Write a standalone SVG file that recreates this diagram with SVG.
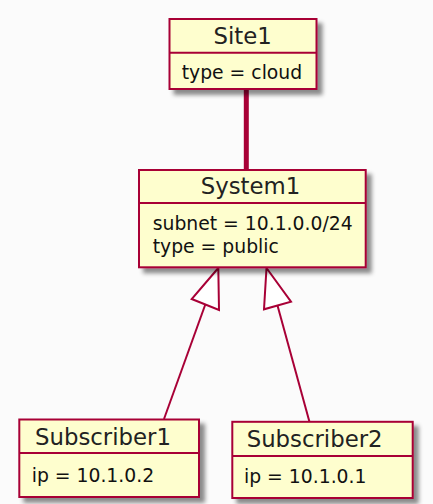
<svg xmlns="http://www.w3.org/2000/svg" width="433" height="504" viewBox="0 0 433 504">
  <style>
    .box { fill: #FEFECE; stroke: #A80036; stroke-width: 2; }
    .sep { stroke: #A80036; stroke-width: 2; }
    .title { font-family: "DejaVu Sans", "Liberation Sans", sans-serif; font-size: 22.8px; fill: #222; }
    .attr { font-family: "DejaVu Sans", "Liberation Sans", sans-serif; font-size: 18.8px; fill: #111; }
    .link { stroke: #A80036; fill: none; stroke-width: 2; }
    .head { fill: #FFFFFF; stroke: #A80036; stroke-width: 2; stroke-linejoin: miter; }
  </style>
  <defs>
    <filter id="shadow" x="-10%" y="-10%" width="130%" height="130%">
      <feGaussianBlur in="SourceAlpha" stdDeviation="2"/>
      <feOffset dx="5" dy="5" result="b"/>
      <feFlood flood-color="#000" flood-opacity="0.45"/>
      <feComposite in2="b" operator="in" result="s"/>
      <feMerge><feMergeNode in="s"/><feMergeNode in="SourceGraphic"/></feMerge>
    </filter>
  </defs>
  <rect x="0" y="0" width="433" height="504" fill="#FBFBFB"/>

  <g id="connectors">
    <!-- composition-style thick link Site1 - System1 -->
    <line x1="246.3" y1="89" x2="246.3" y2="170" stroke="#A80036" stroke-width="5"/>
    <!-- Subscriber1 -> System1 (generalization) -->
    <line class="link" x1="205.3" y1="304.5" x2="164" y2="419"/>
    <polygon class="head" points="218.3,268 191.7,299 219,310"/>
    <!-- Subscriber2 -> System1 (generalization) -->
    <line class="link" x1="277.5" y1="305.5" x2="309.5" y2="422"/>
    <polygon class="head" points="266.5,268 264,309.3 291,301.7"/>
  </g>

  <g id="Site1">
    <rect class="box" x="169.5" y="19" width="147" height="70" filter="url(#shadow)"/>
    <line class="sep" x1="169.5" y1="52.7" x2="316.5" y2="52.7"/>
    <text class="title" x="213.5" y="44.3">Site1</text>
    <text class="attr" x="181.7" y="79">type = cloud</text>
  </g>

  <g id="System1">
    <rect class="box" x="139" y="170" width="226.7" height="97.3" filter="url(#shadow)"/>
    <line class="sep" x1="139" y1="203" x2="365.7" y2="203"/>
    <text class="title" x="200.7" y="194">System1</text>
    <text class="attr" x="152.7" y="230">subnet = 10.1.0.0/24</text>
    <text class="attr" x="152.7" y="252.7">type = public</text>
  </g>

  <g id="Subscriber1">
    <rect class="box" x="19.3" y="419.5" width="179.7" height="77.5" filter="url(#shadow)"/>
    <line class="sep" x1="19.3" y1="453" x2="199" y2="453"/>
    <text class="title" x="35" y="445">Subscriber1</text>
    <text class="attr" x="31.7" y="481.7">ip = 10.1.0.2</text>
  </g>

  <g id="Subscriber2">
    <rect class="box" x="232.3" y="421.8" width="180.4" height="76.2" filter="url(#shadow)"/>
    <line class="sep" x1="232.3" y1="456" x2="412.7" y2="456"/>
    <text class="title" x="246.7" y="446.5">Subscriber2</text>
    <text class="attr" x="244" y="483">ip = 10.1.0.1</text>
  </g>
</svg>
